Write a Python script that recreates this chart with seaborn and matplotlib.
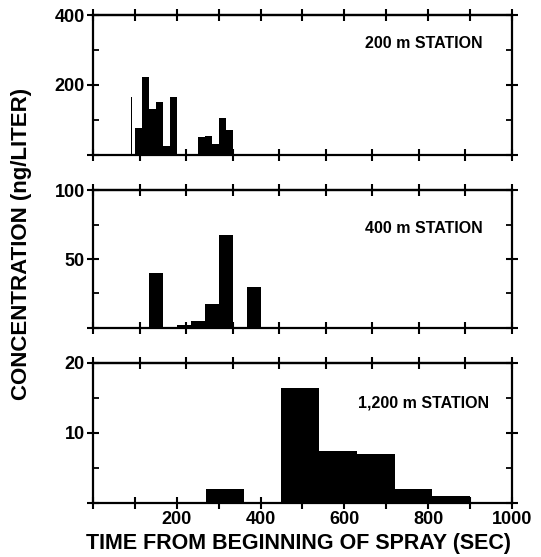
import numpy as np
import matplotlib
matplotlib.use("Agg")
import matplotlib.pyplot as plt
import seaborn as sns

# bin edges (sec) and concentrations (ng/L) per station
edges_200 = [81, 84, 90, 105, 120, 135, 150, 165, 180, 225, 240, 255, 270, 285, 300]
conc_200 = [166, 0, 76, 222, 130, 150, 26, 165, 0, 51, 55, 30, 106, 71]

edges_400 = [120, 150, 180, 210, 240, 270, 300, 330, 360]
conc_400 = [39.5, 0, 1.7, 4.6, 17, 67.6, 0, 29.3]

edges_1200 = [270, 360, 450, 540, 630, 720, 810, 900]
conc_1200 = [2, 0, 16.4, 7.4, 7.0, 2.0, 0.9]

stations = ["200 m STATION", "400 m STATION", "1,200 m STATION"]
y_max = [400, 100, 20]
x_max = [900, 900, 1000]
top_ticks = [np.linspace(0, 900, 11), np.arange(0, 901, 100), np.linspace(0, 1000, 10)]
label_y = [0.80, 0.72, 0.71]

sns.set_style("ticks", {"axes.edgecolor": "black", "text.color": "black",
                        "xtick.color": "black", "ytick.color": "black",
                        "axes.labelcolor": "black"})
plt.rcParams['font.family'] = ['Liberation Sans', 'DejaVu Sans']
plt.rcParams['font.weight'] = 'bold'

fig = plt.figure(figsize=(5.41, 5.57), dpi=100)
boxes = [(0.172, 0.722, 0.774, 0.251),
         (0.172, 0.412, 0.774, 0.246),
         (0.172, 0.0975, 0.774, 0.2515)]

data = [(edges_200, conc_200), (edges_400, conc_400), (edges_1200, conc_1200)]

for i, (edges, conc) in enumerate(data):
    ax = fig.add_axes(boxes[i])
    centers = (np.array(edges[:-1]) + np.array(edges[1:])) / 2
    sns.histplot(x=centers, weights=conc, bins=edges, ax=ax, color="black",
                 alpha=1, linewidth=0, edgecolor="black")
    ax.set_xlim(0, x_max[i])
    ax.set_ylim(0, y_max[i])
    ym = y_max[i]
    ax.set_yticks([0, ym / 2, ym])
    ax.set_yticklabels(["", f"{int(ym / 2)}", f"{int(ym)}"])
    ax.set_yticks([ym / 4, 3 * ym / 4], minor=True)
    ax.set_xticks(np.arange(0, x_max[i] + 1, 100))
    if i == 2:
        ax.set_xticklabels(["" if (v % 200 or v == 0) else str(v)
                            for v in range(0, 1001, 100)])
    else:
        ax.set_xticklabels([])
    ax.set_xlabel("")
    ax.set_ylabel("")
    for s in ax.spines.values():
        s.set_visible(True)
        s.set_linewidth(1.6)
    ax.tick_params(axis="both", which="major", direction="inout", length=8,
                   width=1.5, labelsize=13, right=True, pad=2)
    ax.tick_params(axis="y", which="minor", direction="in", length=4,
                   width=1.3, right=True)
    sec = ax.secondary_xaxis("top")
    sec.set_xticks(top_ticks[i])
    sec.set_xticklabels([])
    sec.tick_params(direction="inout", length=8, width=1.5)
    sec.spines["top"].set_linewidth(1.6)
    ax.text(0.79, label_y[i], stations[i], transform=ax.transAxes,
            ha="center", va="center", fontsize=11.5, fontweight="bold")

fig.text(0.552, 0.025, "TIME FROM BEGINNING OF SPRAY (SEC)", ha="center",
         va="center", fontsize=15.5, fontweight="bold")
fig.text(0.04, 0.562, "CONCENTRATION (ng/LITER)", ha="center", va="center",
         rotation=90, fontsize=16, fontweight="bold")

fig.savefig("out.png", dpi=100)
